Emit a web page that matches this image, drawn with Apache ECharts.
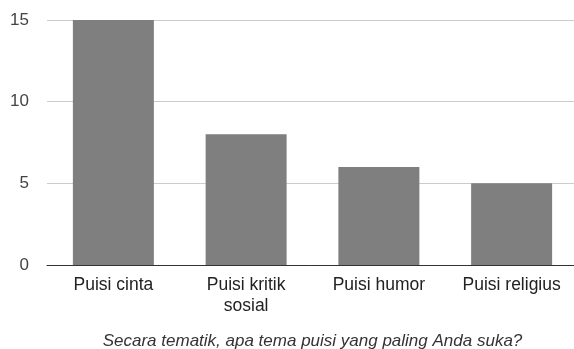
<!DOCTYPE html>
<html>
<head>
<meta charset="utf-8">
<script src="https://cdn.jsdelivr.net/npm/echarts@6/dist/echarts.min.js"></script>
<style>
  html, body { margin: 0; padding: 0; background: #fff; }
  #chart { width: 574px; height: 349px; }
</style>
</head>
<body>
<div id="chart"></div>
<script>
// Survey answers: favourite poem themes
const categories = ['Puisi cinta', 'Puisi kritik\nsosial', 'Puisi humor', 'Puisi religius'];
const counts = [15, 8, 6, 5];
const yTicks = [0, 5, 10, 15];
const axisTitle = 'Secara tematik, apa tema puisi yang paling Anda suka?';

const chart = echarts.init(document.getElementById('chart'), null, { renderer: 'canvas' });
chart.setOption({
  animation: false,
  textStyle: { fontFamily: 'Liberation Sans, Arial, sans-serif' },
  grid: {
    left: 47, top: 20, width: 531, height: 245,
    containLabel: false,
    outerBoundsMode: 'none'
  },
  xAxis: {
    type: 'category',
    data: categories,
    name: axisTitle,
    nameLocation: 'middle',
    nameGap: 68,
    nameTextStyle: { fontStyle: 'italic', fontSize: 17, color: '#333' },
    axisLine: { lineStyle: { color: '#333', width: 1 } },
    axisTick: { show: false },
    axisLabel: { fontSize: 17.5, color: '#222', lineHeight: 21, margin: 10, interval: 0 }
  },
  yAxis: {
    type: 'value',
    min: yTicks[0],
    max: yTicks[yTicks.length - 1],
    interval: 5,
    axisLine: { show: false },
    axisTick: { show: false },
    axisLabel: { fontSize: 17, color: '#444', margin: 18 },
    splitLine: { lineStyle: { color: '#ccc', width: 1 } }
  },
  series: [{
    type: 'bar',
    data: counts,
    barWidth: 81,
    itemStyle: { color: '#7f7f7f' }
  }]
});
</script>
</body>
</html>
